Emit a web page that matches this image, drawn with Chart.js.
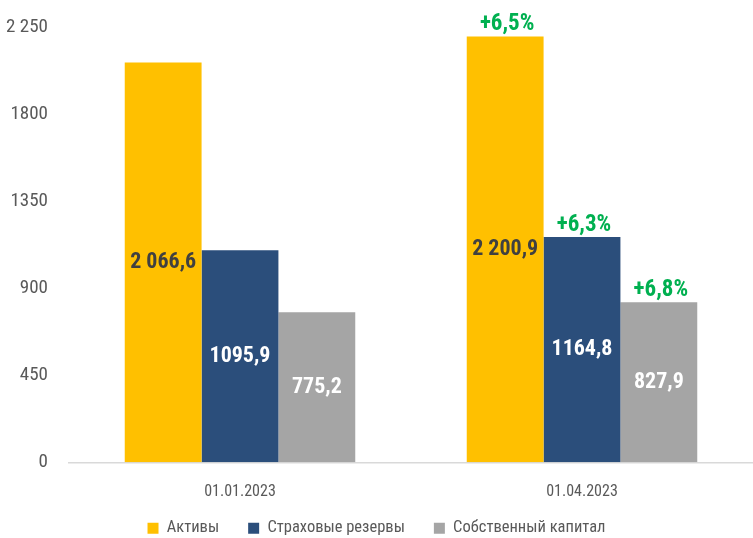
<!DOCTYPE html>
<html lang="ru">
  <head>
    <meta charset="UTF-8" />
    <title>Активы, резервы и капитал</title>
    <style>
      html, body { margin: 0; padding: 0; background: #fff; }
      #wrap { width: 753px; height: 538px; }
    </style>
  </head>
  <body>
    <div id="wrap">
      <canvas id="myChart"></canvas>
    </div>
    <script src="https://cdn.jsdelivr.net/npm/chart.js"></script>
    <script>
      const categories = ['01.01.2023', '01.04.2023'];
      const seriesNames = ['Активы', 'Страховые резервы', 'Собственный капитал'];
      const assets = [2066.6, 2200.9];
      const reserves = [1095.9, 1164.8];
      const equity = [775.2, 827.9];
      const assetsLabels = ['2 066,6', '2 200,9'];
      const reservesLabels = ['1095,9', '1164,8'];
      const equityLabels = ['775,2', '827,9'];
      const growthLabels = [
        [null, '+6,5%'],
        [null, '+6,3%'],
        [null, '+6,8%'],
      ];
      const yTicks = [0, 450, 900, 1350, 1800, 2250];
      const yTickLabels = ['0', '450', '900', '1350', '1800', '2 250'];

      const FONT = '"Roboto Condensed", "DejaVu Sans Condensed", sans-serif';
      const colors = ['#FFC000', '#2B4E7B', '#A5A5A5'];
      const valueColors = ['#404040', '#FFFFFF', '#FFFFFF'];
      const valueLabels = [assetsLabels, reservesLabels, equityLabels];

      // labels inside bars + growth above them
      const barLabels = {
        id: 'barLabels',
        afterDatasetsDraw(chart) {
          const ctx = chart.ctx;
          chart.data.datasets.forEach((ds, i) => {
            const meta = chart.getDatasetMeta(i);
            meta.data.forEach((bar, j) => {
              ctx.save();
              ctx.textAlign = 'center';
              ctx.font = 'bold 22px ' + FONT;
              ctx.textBaseline = 'middle';
              ctx.fillStyle = valueColors[i];
              ctx.fillText(valueLabels[i][j], bar.x, (bar.y + bar.base) / 2);
              const g = growthLabels[i][j];
              if (g) {
                ctx.font = 'bold 23px ' + FONT;
                ctx.fillStyle = '#00B050';
                ctx.textBaseline = 'alphabetic';
                ctx.fillText(g, bar.x + 2, bar.y - 6);
              }
              ctx.restore();
            });
          });
        },
      };

      // legend: keep its box short and pin it to the bottom row
      const legendFit = {
        id: 'legendFit',
        beforeInit(chart) {
          const fit = chart.legend.fit;
          chart.legend.fit = function () {
            fit.bind(chart.legend)();
            this.height = 16.5;
          };
        },
        afterLayout(chart) {
          const lg = chart.legend;
          lg.top = 491;
          lg.bottom = chart.height;
        },
      };

      const data = {
        labels: categories,
        datasets: [
          { label: seriesNames[0], data: assets, backgroundColor: colors[0] },
          { label: seriesNames[1], data: reserves, backgroundColor: colors[1] },
          { label: seriesNames[2], data: equity, backgroundColor: colors[2] },
        ],
      };

      const config = {
        type: 'bar',
        data: data,
        options: {
          responsive: true,
          maintainAspectRatio: false,
          animation: false,
          datasets: {
            bar: { barPercentage: 1, categoryPercentage: 0.674, borderWidth: 0 },
          },
          layout: { padding: { top: 27, right: 0, bottom: 0, left: 0 } },
          plugins: {
            tooltip: { enabled: false },
            legend: {
              position: 'bottom',
              labels: {
                boxWidth: 11,
                boxHeight: 11,
                padding: 29,
                color: '#595959',
                font: { family: FONT, size: 16.5 },
              },
            },
          },
          scales: {
            x: {
              grid: { display: false, drawTicks: false },
              border: { display: true, color: '#D9D9D9', width: 1.5 },
              ticks: {
                color: '#595959',
                padding: 20,
                font: { family: FONT, size: 16 },
              },
            },
            y: {
              min: 0,
              max: 2250,
              grid: { display: false, drawTicks: false },
              border: { display: false },
              afterFit(scale) {
                scale.width = 69;
                scale.paddingTop = 0;
                scale.paddingBottom = 0;
              },
              afterBuildTicks(scale) {
                scale.ticks = yTicks.map((v) => ({ value: v }));
              },
              ticks: {
                color: '#595959',
                padding: 21,
                font: { family: FONT, size: 19 },
                callback: (v) => yTickLabels[yTicks.indexOf(v)],
              },
            },
          },
        },
        plugins: [barLabels, legendFit],
      };

      new Chart(document.getElementById('myChart'), config);
    </script>
  </body>
</html>
